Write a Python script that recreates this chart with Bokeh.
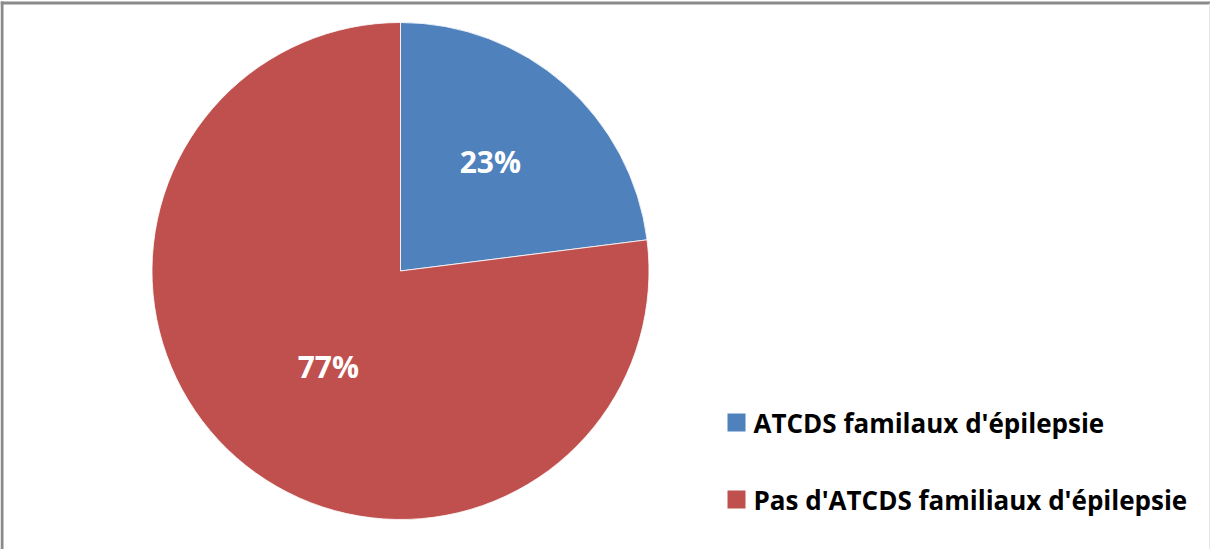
import math
from bokeh.plotting import figure
from bokeh.models import ColumnDataSource, Range1d
from bokeh.core.properties import value
from bokeh.embed import file_html
from bokeh.resources import INLINE

categories = ["ATCDS familaux d'épilepsie", "Pas d'ATCDS familiaux d'épilepsie"]
values = [23, 77]
labels = ["23%", "77%"]
colors = ["#4F81BD", "#C0504D"]

W, H = 1210, 549
p = figure(width=W, height=H, output_backend="svg", toolbar_location=None,
           x_range=Range1d(0, W), y_range=Range1d(0, H), min_border=0)
p.axis.visible = False
p.grid.visible = False
p.outline_line_color = None
p.background_fill_color = "white"
p.border_fill_color = "white"

# chart border (top and left visible, right faint)
p.segment(x0=[0], y0=[H - 2.5], x1=[W], y1=[H - 2.5], line_color="#8a8a8a", line_width=3)
p.segment(x0=[1.5], y0=[0], x1=[1.5], y1=[H - 1], line_color="#8a8a8a", line_width=3)
p.segment(x0=[W - 1], y0=[0], x1=[W - 1], y1=[H - 3], line_color="#e6e6e6", line_width=1)

cx, cy, r = 400, 278.5, 248.5
label_frac = [0.565, 0.487]
label_dangle = [1.6, 4.8]  # degrees, counter-clockwise tweak like Excel's placement
total = sum(values)
starts, ends, lx, ly = [], [], [], []
acc = 0.0
for i, v in enumerate(values):
    a0 = math.pi / 2 - 2 * math.pi * acc / total
    a1 = math.pi / 2 - 2 * math.pi * (acc + v) / total
    starts.append(a0)
    ends.append(a1)
    mid = (a0 + a1) / 2 + math.radians(label_dangle[i])
    lx.append(cx + label_frac[i] * r * math.cos(mid))
    ly.append(cy + label_frac[i] * r * math.sin(mid) + 1.5)
    acc += v

src = ColumnDataSource(dict(start=starts, end=ends, color=colors, cat=categories,
                            lx=lx, ly=ly, label=labels))
p.wedge(x=cx, y=cy, radius=r, start_angle="start", end_angle="end", direction="clock",
        fill_color="color", line_color="white", line_width=0.8, source=src)
p.text(x="lx", y="ly", text="label", text_color="white", text_font=value("Open Sans"),
       text_font_style="bold", text_font_size="30px", text_align="center",
       text_baseline="middle", source=src)

# legend
lg_x, lg_y0, lg_step = 736, 127, 77
lsrc = ColumnDataSource(dict(
    y=[lg_y0 - i * lg_step for i in range(len(categories))],
    cat=categories, color=colors))
p.rect(x=lg_x, y="y", width=18, height=18, fill_color="color", line_color=None, source=lsrc)
p.text(x=lg_x + 17, y="y", text="cat", text_color="black", text_font=value("Open Sans"),
       text_font_style="bold", text_font_size="26px", text_align="left",
       text_baseline="middle", source=lsrc)

open("out.html", "w").write(file_html(p, INLINE))
